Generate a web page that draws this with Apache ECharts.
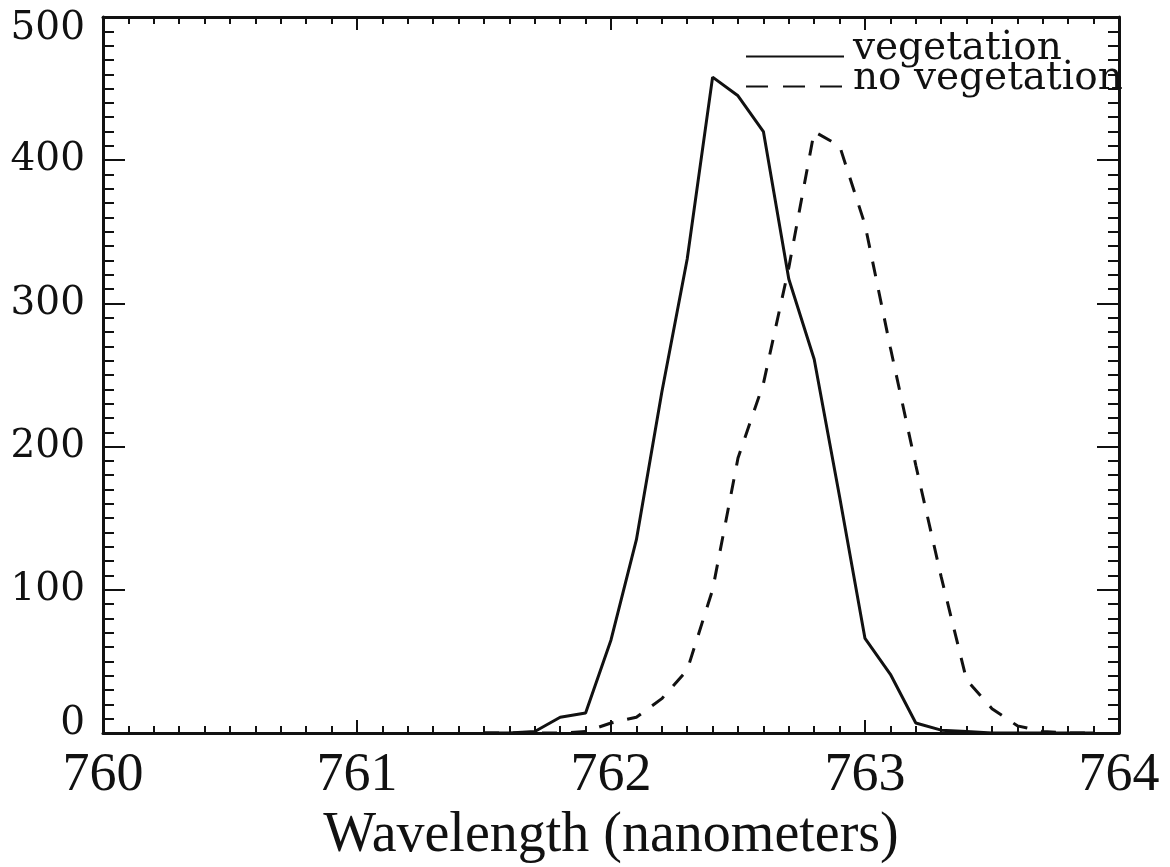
<!DOCTYPE html>
<html>
<head>
<meta charset="utf-8">
<title>Wavelength</title>
<script src="https://cdn.jsdelivr.net/npm/echarts@6/dist/echarts.min.js"></script>
<style>
  html, body { margin: 0; padding: 0; background: #fff; }
  #main { width: 1170px; height: 867px; }
</style>
</head>
<body>
<div id="main"></div>
<script>
// wavelength samples (nm) at 0.1 nm steps
const wavelength = [761.5, 761.6, 761.7, 761.8, 761.9, 762.0, 762.1, 762.2, 762.3, 762.4,
  762.5, 762.6, 762.7, 762.8, 762.9, 763.0, 763.1, 763.2, 763.3, 763.4,
  763.5, 763.6, 763.7, 763.8, 763.9];
const vegetation = [0, 0, 1, 11, 14, 65, 135, 238, 331, 458,
  445, 420, 317, 261, 165, 66, 41, 7, 2, 1,
  0, 0, 0, 0, 0];
const noVegetation = [0, 0, 0, 0, 1, 7, 11, 24, 44, 100,
  192, 244, 325, 420, 410, 355, 269, 187, 109, 37,
  17, 5, 1, 0, 0];
const seriesNames = ["vegetation", "no vegetation"];

const ink = "#111";

function pairs(ys) {
  return wavelength.map((x, i) => [x, ys[i]]);
}

function xAxisCfg(pos, showLabel) {
  return {
    type: "value",
    position: pos,
    min: 760,
    max: 764,
    interval: 1,
    axisLine: { show: true, onZero: false, lineStyle: { color: ink, width: 3 } },
    axisTick: { show: true, inside: true, length: 13, lineStyle: { color: ink, width: 2 } },
    minorTick: { show: true, splitNumber: 10, length: 7, lineStyle: { color: ink, width: 2 } },
    splitLine: { show: false },
    axisLabel: {
      show: showLabel,
      color: ink,
      fontFamily: "Liberation Serif",
      fontSize: 54,
      margin: 16
    }
  };
}

function yAxisCfg(pos, showLabel) {
  return {
    type: "value",
    position: pos,
    min: 0,
    max: 500,
    interval: 100,
    axisLine: { show: true, onZero: false, lineStyle: { color: ink, width: 3 } },
    axisTick: { show: true, inside: true, length: 22, lineStyle: { color: ink, width: 2 } },
    minorTick: { show: true, splitNumber: 10, length: 11, lineStyle: { color: ink, width: 2 } },
    splitLine: { show: false },
    axisLabel: {
      show: showLabel,
      color: ink,
      fontFamily: "DejaVu Serif",
      fontSize: 39,
      margin: 18,
      // end labels sit a little inside the frame, as in the original
      formatter: function (v) {
        if (v === 500) return "{top|500}";
        if (v === 0) return "{bot|0}";
        return String(v);
      },
      rich: {
        top: { fontFamily: "DejaVu Serif", fontSize: 39, color: ink, padding: [24, 0, 0, 0] },
        bot: { fontFamily: "DejaVu Serif", fontSize: 39, color: ink, padding: [0, 0, 18, 0] }
      }
    }
  };
}

const bottomAxis = xAxisCfg("bottom", true);
bottomAxis.name = "Wavelength (nanometers)";
bottomAxis.nameLocation = "middle";
bottomAxis.nameGap = 70;
bottomAxis.nameTextStyle = { color: ink, fontFamily: "Liberation Serif", fontSize: 56 };

const option = {
  animation: false,
  backgroundColor: "#fff",
  grid: { left: 103, right: 51, top: 17, bottom: 134, outerBoundsMode: "none", containLabel: false },
  legend: {
    orient: "vertical",
    left: 740,
    top: 24,
    itemWidth: 98,
    itemHeight: 14,
    itemGap: -9,
    // text stands a bit above its sample line
    formatter: "{t|{name}}",
    textStyle: {
      color: ink,
      fontFamily: "DejaVu Serif",
      fontSize: 39,
      rich: {
        t: {
          color: ink,
          fontFamily: "DejaVu Serif",
          fontSize: 39,
          padding: [0, 0, 16, 4]
        }
      }
    },
    data: [
      { name: seriesNames[0] },
      { name: seriesNames[1], lineStyle: { type: [22, 15] } }
    ]
  },
  xAxis: [bottomAxis, xAxisCfg("top", false)],
  yAxis: [yAxisCfg("left", true), yAxisCfg("right", false)],
  series: [
    {
      name: seriesNames[0],
      type: "line",
      symbol: "none",
      data: pairs(vegetation),
      itemStyle: { color: "rgba(0,0,0,0)" },
      lineStyle: { color: ink, width: 3, type: "solid" }
    },
    {
      name: seriesNames[1],
      type: "line",
      symbol: "none",
      data: pairs(noVegetation),
      itemStyle: { color: "rgba(0,0,0,0)" },
      lineStyle: { color: ink, width: 3, type: [15, 14] }
    }
  ]
};

const chart = echarts.init(document.getElementById("main"));
chart.setOption(option);
</script>
</body>
</html>
